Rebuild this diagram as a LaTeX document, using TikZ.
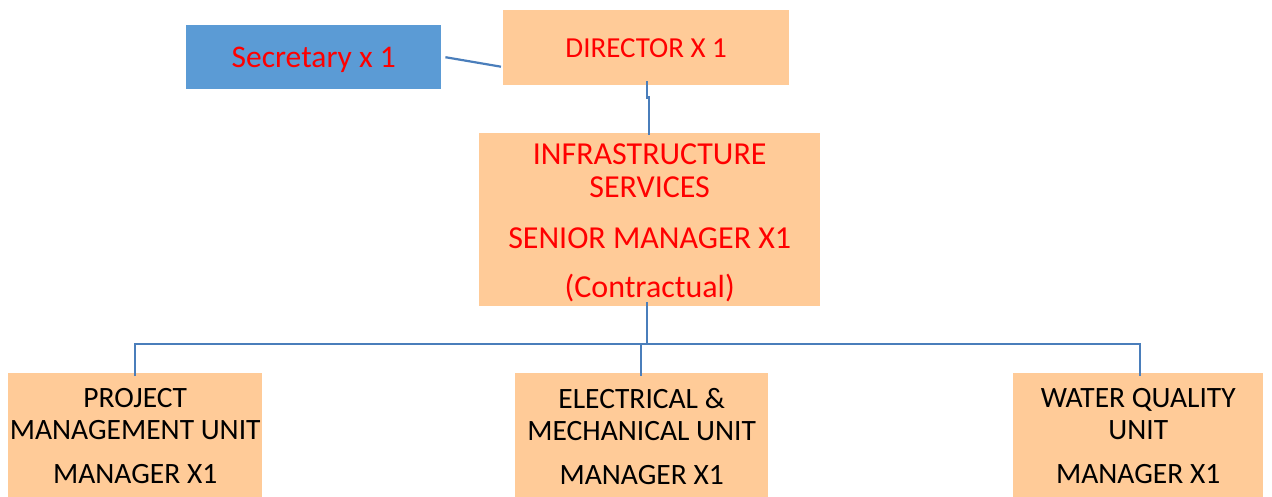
\documentclass[tikz,border=0pt]{standalone}
\usepackage{fontspec}
\setmainfont{Carlito}
\definecolor{peach}{HTML}{FFCB98}
\definecolor{secblue}{HTML}{5B9BD5}
\definecolor{linkblue}{HTML}{4A7EBB}
\begin{document}
\begin{tikzpicture}[x=1pt,y=-1pt,
  box/.style={rectangle,fill=peach,inner sep=0pt,align=center,anchor=north west},
  txt/.style={inner sep=0pt,align=center},
  link/.style={draw=linkblue,line width=2.2pt},
  redtxt/.style={text=red},
]
\useasboundingbox (0,0) rectangle (1272,496);
\begin{scope}
\clip (0,0) rectangle (1272,496);
\node[box,fill=secblue,minimum width=255pt,minimum height=64pt] (sec) at (186,25) {};
\node[txt,redtxt,font=\fontsize{31.5}{36}\selectfont] (sectxt) at ([yshift=-3pt]sec.center) {Secretary x 1};
\node[box,minimum width=286pt,minimum height=75pt,redtxt,font=\fontsize{29}{34}\selectfont] (dir) at (503,10) {DIRECTOR X 1};
\node[box,minimum width=341pt,minimum height=173pt] (infra) at (479,133) {};
\node[txt,redtxt,font=\fontsize{32}{33}\selectfont] (infratxt) at ([yshift=-3pt]infra.center) {INFRASTRUCTURE\\SERVICES\\[18pt]SENIOR MANAGER X1\\[16pt](Contractual)};
\node[box,minimum width=254pt,minimum height=126pt,font=\fontsize{29.5}{32}\selectfont] (pmu) at (8,373) {PROJECT\\MANAGEMENT UNIT\\[12pt]MANAGER X1};
\node[box,minimum width=253pt,minimum height=126pt,font=\fontsize{29.5}{32}\selectfont] (emu) at (515,373) {ELECTRICAL \&\\MECHANICAL UNIT\\[12pt]MANAGER X1};
\node[box,minimum width=250pt,minimum height=126pt,font=\fontsize{29.5}{32}\selectfont] (wqu) at (1013,373) {WATER QUALITY\\UNIT\\[12pt]MANAGER X1};
\end{scope}
\coordinate (bus) at (646,344);
\draw[link] ([xshift=4pt]sec.east) -- ([shift={(-2pt,-19pt)}]dir.south west |- dir.east) ;
\draw[link] ([shift={(1pt,4pt)}]dir.south) -- ++(0,16) -- ++(2,0) -- ([shift={(-0.5pt,-2pt)}]infra.north);
\draw[link] ([shift={(-3pt,4pt)}]infra.south) |- (bus) ;
\draw[link] ([yshift=-3pt]pmu.north -| 135,0) |- (1140,344) -- ([yshift=-3pt]wqu.north -| 1140,0);
\draw[link] (641,344) -- ([yshift=-3pt]emu.north -| 641,0);
\end{tikzpicture}
\end{document}
